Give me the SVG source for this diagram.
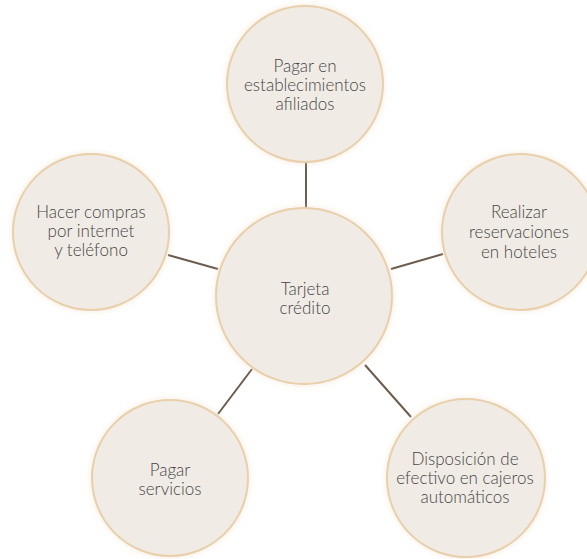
<svg xmlns="http://www.w3.org/2000/svg" width="587" height="559" viewBox="0 0 587 559">
  <defs>
    <filter id="halo" x="-20%" y="-20%" width="140%" height="140%">
      <feGaussianBlur in="SourceAlpha" stdDeviation="3" result="b"/>
      <feFlood flood-color="#ecd9bf" flood-opacity="0.55"/>
      <feComposite in2="b" operator="in" result="g"/>
      <feMerge>
        <feMergeNode in="g"/>
        <feMergeNode in="SourceGraphic"/>
      </feMerge>
    </filter>
  </defs>
  <style>
    .bubble { fill: #f1ebe5; stroke: #e9d0ab; stroke-width: 2; filter: url(#halo); }
    .label { font-family: Lato, "Open Sans", "Liberation Sans", sans-serif; font-size: 17px; font-weight: 300; fill: #464646; text-anchor: middle; }
    .link { stroke: #6c5c4e; stroke-width: 2; fill: none; }
  </style>
  <rect width="587" height="559" fill="#ffffff"/>

  <!-- spokes from the hub to each use -->
  <g id="connectors">
    <line class="link" x1="306" y1="162" x2="306" y2="208"/>
    <line class="link" x1="168" y1="255" x2="218" y2="269"/>
    <line class="link" x1="391" y1="269" x2="443" y2="254"/>
    <line class="link" x1="252" y1="369" x2="218" y2="414"/>
    <line class="link" x1="365" y1="365" x2="411" y2="417"/>
  </g>

  <g id="node-hub">
    <circle class="bubble" cx="304" cy="296" r="88"/>
    <text class="label" x="305" y="295">Tarjeta</text>
    <text class="label" x="305" y="314">crédito</text>
  </g>

  <g id="node-establecimientos">
    <circle class="bubble" cx="305" cy="84" r="78"/>
    <text class="label" x="305" y="72">Pagar en</text>
    <text class="label" x="305" y="91">establecimientos</text>
    <text class="label" x="305" y="110">afiliados</text>
  </g>

  <g id="node-compras">
    <circle class="bubble" cx="91" cy="232" r="78"/>
    <text class="label" x="91" y="218">Hacer compras</text>
    <text class="label" x="91" y="237">por internet</text>
    <text class="label" x="91" y="256">y teléfono</text>
  </g>

  <g id="node-reservaciones">
    <circle class="bubble" cx="520" cy="232" r="78"/>
    <text class="label" x="519" y="218">Realizar</text>
    <text class="label" x="519" y="238">reservaciones</text>
    <text class="label" x="519" y="258">en hoteles</text>
  </g>

  <g id="node-servicios">
    <circle class="bubble" cx="170" cy="478" r="78"/>
    <text class="label" x="170" y="476">Pagar</text>
    <text class="label" x="170" y="495">servicios</text>
  </g>

  <g id="node-cajeros">
    <circle class="bubble" cx="466" cy="478" r="79"/>
    <text class="label" x="465" y="465">Disposición de</text>
    <text class="label" x="465" y="484">efectivo en cajeros</text>
    <text class="label" x="465" y="503">automáticos</text>
  </g>
</svg>
